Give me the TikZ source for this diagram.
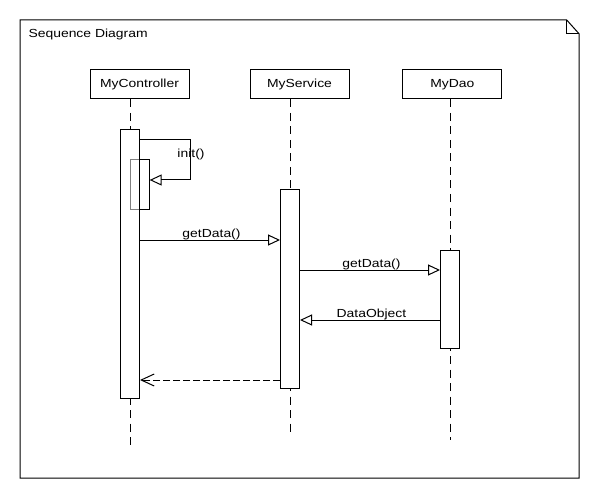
\documentclass[tikz,border=0pt]{standalone}
\usepackage{fontspec}
\setmainfont{Liberation Sans}[FakeStretch=1.19]
\usetikzlibrary{arrows.meta}
\begin{document}
\begin{tikzpicture}[x=1pt,y=-1pt, line width=1pt,
  font=\fontsize{11.7}{14}\selectfont,
  box/.style={draw, fill=white, minimum width=99pt, minimum height=29pt, inner sep=0pt},
  bar/.style={draw, fill=white, minimum width=19pt, inner sep=0pt},
  life/.style={dash pattern=on 8pt off 5.5pt},
  msg/.style={-{Triangle[open,length=12pt,width=11pt]}},
  ret/.style={dash pattern=on 7pt off 3pt, -{Straight Barb[length=13pt,width=12pt]}},
  lbl/.style={anchor=base, inner sep=0pt}]
\useasboundingbox (0,0) rectangle (600,500);
% frame
\draw (20,20) -- (566.7,20) -- (579,33.7) -- (579,478) -- (20,478) -- cycle;
\draw (566.7,20) -- (566.7,33.7) -- (579,33.7);
\node[lbl, anchor=base west] (title) at (28,37.7) {Sequence Diagram};
% lifeline heads
\node[box] (ctl) at (139.5,84.5) {MyController};
\node[box] (svc) at (299.5,84.5) {MyService};
\node[box] (dao) at (452.3,84.5) {MyDao};
\coordinate (ctlEnd) at (130,446);
\coordinate (svcEnd) at (290,436);
\coordinate (daoEnd) at (450,440);
\draw[life] (ctlEnd |- ctl.south) -- (ctlEnd);
\draw[life] (svcEnd |- svc.south) -- (svcEnd);
\draw[life] (daoEnd |- dao.south) -- (daoEnd);
% activations
\node[fill=white, minimum width=19pt, minimum height=268pt, inner sep=0pt] (actCbg) at (130,264) {};
\node[bar, minimum height=49pt] (actC2) at (139.65,184.5) {};
\node[bar, fill opacity=0.5, minimum height=268pt] (actC) at (130,264) {};
\node[bar, minimum height=198pt] (actS) at (290,289) {};
\node[bar, minimum height=98pt] (actD) at (450,299) {};
% self message
\coordinate (s1) at (190,140);
\coordinate (s2) at (190,180);
\node[lbl] (initl) at (191,157.5) {init()};
\draw[msg] (actC.east |- s1) -- (s1) -- (s2) -- (actC2.east |- s2);
% messages
\coordinate (m1) at (0,240);
\coordinate (m2) at (0,270);
\coordinate (m3) at (0,320);
\coordinate (m4) at (0,380);
\draw[msg] (actC.east |- m1) -- (actS.west |- m1)
  node[lbl, midway, xshift=1.5pt, yshift=3pt] (l1) {getData()};
\draw[msg] (actS.east |- m2) -- (actD.west |- m2)
  node[lbl, midway, xshift=1.5pt, yshift=3pt] (l2) {getData()};
\draw[msg] (actD.west |- m3) -- (actS.east |- m3)
  node[lbl, midway, xshift=1.5pt, yshift=3pt] (l3) {DataObject};
\draw[ret] (actS.west |- m4) -- (actC.east |- m4);
\end{tikzpicture}
\end{document}
